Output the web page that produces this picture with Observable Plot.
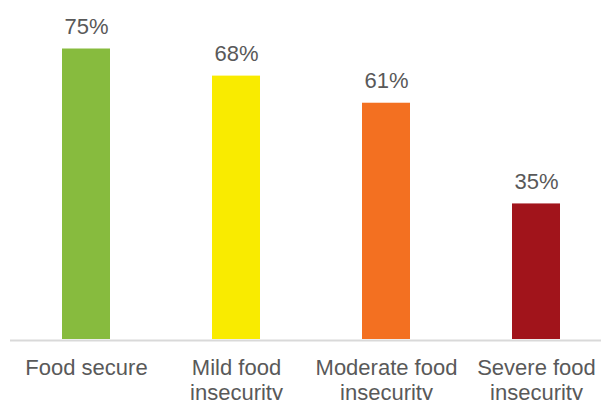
<!DOCTYPE html>
<html><head><meta charset="utf-8">
<script src="https://cdn.jsdelivr.net/npm/d3@7"></script>
<script src="https://cdn.jsdelivr.net/npm/@observablehq/plot@0.6"></script>
<style>body{margin:0;background:#fff;overflow:hidden}</style>
</head><body><div id="chart"></div>
<script>
const categories = ["Food secure", "Mild food insecurity", "Moderate food insecurity", "Severe food insecurity"];
const tickLabels = ["Food secure", "Mild food\ninsecurity", "Moderate food\ninsecurity", "Severe food\ninsecurity"];
const values = [75, 68, 61, 35];
const valueLabels = ["75%", "68%", "61%", "35%"];
const colors = ["#87bb3e", "#f9eb00", "#f37021", "#a1141b"];

const data = categories.map((c, i) => ({category: c, value: values[i], label: valueLabels[i], tick: tickLabels[i]}));

const chart = Plot.plot({
  width: 601, height: 400,
  marginTop: 48.5, marginBottom: 61, marginLeft: 10, marginRight: 0,
  style: {fontFamily: "'Liberation Sans', Arial, Helvetica, sans-serif", background: "#fff"},
  x: {domain: categories, range: [9.65, 612.35], paddingInner: 0.68, paddingOuter: 0.34, axis: null},
  y: {domain: [0, 75], axis: null},
  color: {domain: categories, range: colors},
  marks: [
    Plot.barY(data, {x: "category", y: "value", fill: "category"}),
    Plot.ruleY([0], {stroke: "#d9d9d9", strokeWidth: 2, dy: 1}),
    Plot.text(data, {x: "category", y: "value", text: "label", lineAnchor: "bottom", dy: -15, fontSize: 22, fill: "#595959"}),
    Plot.text(data, {x: "category", y: 0, text: "tick", lineAnchor: "top", dy: 18.5, fontSize: 22, lineHeight: 1.11, fill: "#595959"})
  ]
});
document.getElementById("chart").appendChild(chart);
</script>
</body></html>
